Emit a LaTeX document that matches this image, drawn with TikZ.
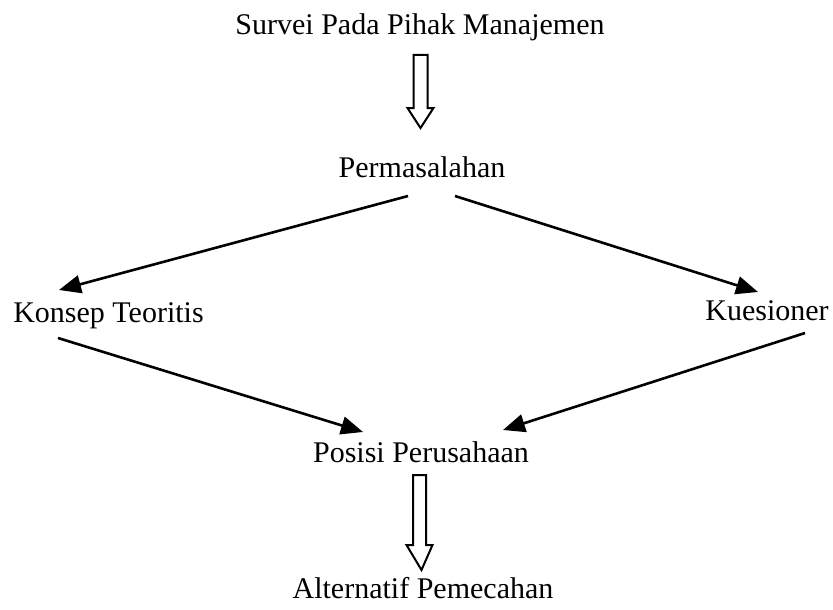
\documentclass[tikz,border=0pt]{standalone}
\usepackage{fontspec}
\setmainfont{Liberation Serif}
\usetikzlibrary{calc,arrows.meta}
\tikzset{
  lbl/.style={anchor=base, inner sep=0pt, font=\fontsize{30}{36}\selectfont},
  link/.style={line width=2.6pt, -{Triangle[length=22pt,width=18pt]}},
  hollow/.style={line width=2pt, line join=miter, fill=white}
}
\begin{document}
\begin{tikzpicture}[x=1pt,y=-1pt]
\useasboundingbox (0,0) rectangle (833,610);
\node[lbl] (surv) at (420,35) {Survei Pada Pihak Manajemen};
\node[lbl] (perm) at (422,177) {Permasalahan};
\node[lbl] (kons) at (108.5,322) {Konsep Teoritis};
\node[lbl] (kues) at (767,320) {Kuesioner};
\node[lbl] (pos) at (421,462) {Posisi Perusahaan};
\node[lbl] (alt) at (423,598) {Alternatif Pemecahan};
% hollow arrows
\coordinate (a1s) at ($(surv.base)+(0.5,20)$);
\coordinate (a1e) at ($(perm.base)+(-1.5,-49)$);
\coordinate (a2s) at ($(pos.base)+(-1.5,13)$);
\coordinate (a2e) at ($(alt.base)+(-1.5,-28)$);
\draw[hollow] let \p1=(a1s), \p2=(a1e) in
  (\x1-7,\y1) -- (\x1+7,\y1) -- (\x1+7,\y2+20) -- (\x1+13,\y2+20) -- (\x2,\y2)
  -- (\x1-13,\y2+20) -- (\x1-7,\y2+20) -- cycle;
\draw[hollow] let \p1=(a2s), \p2=(a2e) in
  (\x1-6.5,\y1) -- (\x1+6.5,\y1) -- (\x1+6.5,\y2+25) -- (\x1+13,\y2+25) -- (\x2,\y2)
  -- (\x1-13,\y2+25) -- (\x1-6.5,\y2+25) -- cycle;
% connectors
\draw[link] ($(perm.base)+(-14,19)$) -- ($(kons.base)+(-49.5,-32)$);
\draw[link] ($(perm.base)+(33,19)$) -- ($(kues.base)+(-9,-28)$);
\draw[link] ($(kons.base)+(-50.5,16)$) -- ($(pos.base)+(-58,-30)$);
\draw[link] ($(kues.base)+(38,13)$) -- ($(pos.base)+(82,-32)$);
\end{tikzpicture}
\end{document}
